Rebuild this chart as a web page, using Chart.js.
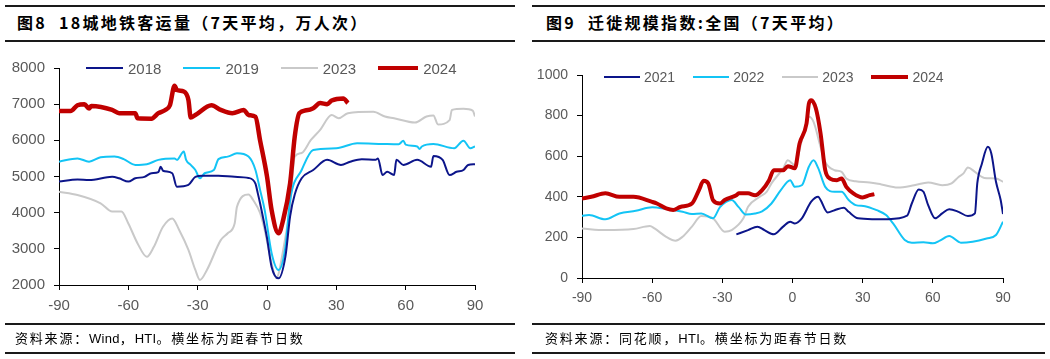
<!DOCTYPE html>
<html>
<head>
<meta charset="utf-8">
<script src="https://cdn.jsdelivr.net/npm/chart.js@4.4.1/dist/chart.umd.min.js"></script>
<style>
  body { margin: 0; width: 1050px; height: 359px; background: #fff; position: relative; overflow: hidden; }
  .rule { position: absolute; height: 2px; background: #1a1a1a; }
  .title { position: absolute; font: bold 16px "Noto Sans CJK SC", sans-serif; color: #000; white-space: nowrap; letter-spacing: 2.3px; }
  .note { position: absolute; font: 13px "Noto Sans CJK SC", sans-serif; color: #000; white-space: nowrap; letter-spacing: 1.8px; }
  .note .lat { letter-spacing: 0.3px; font-family: "Liberation Sans", Arial, sans-serif; }
  .panel { position: absolute; }
  .legend { position: absolute; display: flex; align-items: center; height: 18px; color: #595959; font-family: "Liberation Sans", Arial, sans-serif; }
  .legend .item { display: flex; align-items: center; }
  .legend .swatch { display: inline-block; }
</style>
</head>
<body>

<!-- left panel: metro -->
<div class="rule" style="left:5px;top:5px;width:510px"></div>
<div class="title" style="left:17px;top:10px">图8&nbsp;&nbsp;18城地铁客运量（7天平均，万人次）</div>
<div class="rule" style="left:5px;top:40px;width:510px"></div>
<canvas id="metroChart" class="panel" width="520" height="280" style="left:0;top:45px"></canvas>
<div id="metroLegend" class="legend" style="left:86px;top:59px;font-size:15px;gap:22px"></div>
<div class="rule" style="left:5px;top:323px;width:510px"></div>
<div class="note" style="left:15px;top:328px">资料来源：<span class="lat">Wind</span>，<span class="lat">HTI</span>。横坐标为距春节日数</div>
<div class="rule" style="left:5px;top:352px;width:510px"></div>

<!-- right panel: migration -->
<div class="rule" style="left:532px;top:5px;width:513px"></div>
<div class="title" style="left:546px;top:10px">图9&nbsp;&nbsp;迁徙规模指数:全国（7天平均）</div>
<div class="rule" style="left:532px;top:40px;width:513px"></div>
<canvas id="migChart" class="panel" width="525" height="280" style="left:525px;top:45px"></canvas>
<div id="migLegend" class="legend" style="left:604px;top:68px;font-size:14px;gap:18px"></div>
<div class="rule" style="left:532px;top:323px;width:513px"></div>
<div class="note" style="left:545px;top:328px">资料来源：同花顺，<span class="lat">HTI</span>。横坐标为距春节日数</div>
<div class="rule" style="left:532px;top:352px;width:513px"></div>

<script>
// x axis = days from Spring Festival
const xTicks = [-90, -60, -30, 0, 30, 60, 90];
const metroTicks = [2000, 3000, 4000, 5000, 6000, 7000, 8000];
const migTicks = [0, 200, 400, 600, 800, 1000];

// 18-city metro ridership, 7-day avg (10k trips)
const metroDays2018 = [-90,-82,-77,-67,-64,-60,-57,-53,-50,-47,-46,-45,-41,-39,-34,-31,-28,-21,-14,-8,-5,-4,-3,0,2,5,8,10,12,15,20,26,32,36,41,47,48,50,52,55,56,59,65,71,72,76,79,82,85,87,90];
const metro2018 = [4860,4920,4900,4990,4950,4860,4950,4990,5090,5120,5270,5160,5090,4720,4770,4990,5020,5020,4990,4960,4800,4540,4260,3300,2500,2185,2800,3900,4500,4950,5180,5460,5320,5410,5480,5460,5500,5040,5130,5040,5460,5320,5460,5270,5570,5460,5040,5130,5180,5320,5340];

const metroDays2019 = [-90,-82,-77,-72,-66,-62,-57,-52,-47,-40,-39,-36,-35,-33,-31,-29,-27,-23,-21,-17,-13,-8,-5,-3,-1,2,5,8,10,15,20,30,39,50,57,59,60,65,66,67,72,81,85,88,90];
const metro2019 = [5410,5500,5410,5530,5550,5480,5320,5340,5460,5500,5460,5690,5460,5320,5180,4950,5090,5180,5480,5550,5640,5550,5180,4630,4070,2880,2415,3060,4350,5180,5730,5780,5920,5900,5890,5990,5880,5830,5760,5830,5900,5780,5990,5780,5830];

const metroDays2023 = [-90,-82,-72,-67,-63,-60,-56,-52,-49,-45,-41,-38,-34,-31,-29,-26,-20,-17,-14,-13,-8,-6,-3,-1,2,4,7,10,12,15,19,23,28,31,35,46,51,55,64,69,72,74,79,80,85,89,90];
const metro2023 = [4580,4490,4260,4030,4030,3700,3150,2780,3050,3610,3840,3520,2970,2415,2140,2415,3240,3430,3700,4160,4500,4350,3990,3520,2600,2185,2960,4200,5550,5650,6010,6290,6700,6610,6750,6790,6660,6610,6490,6660,6690,6440,6560,6840,6870,6820,6660];

const metroDays2024 = [-90,-85,-82,-79,-77,-76,-67,-64,-57,-56,-50,-47,-44,-42,-40,-39,-36,-34,-33,-31,-24,-20,-15,-10,-8,-5,-3,0,2,5,7,10,12,14,17,20,23,26,28,33,35];
const metro2024 = [6810,6810,6970,7000,6880,6950,6840,6750,6750,6610,6600,6750,6840,6970,7510,7390,7350,7115,6630,6700,6970,6840,6750,6840,6700,6650,6000,5000,4070,3430,3800,4810,6100,6750,6830,6890,7030,7000,7100,7160,7030];

// national migration scale index, 7-day avg
const migDays2021 = [-24,-19,-15,-12,-8,-4,-1,1,4,8,11,12,15,18,22,24,28,34,41,49,51,54,56,58,61,64,67,71,75,78,79,81,83.5,85,87,89,90];
const mig2021 = [215,236,253,236,215,253,277,269,294,376,400,384,323,334,346,326,294,290,290,307,367,436,425,359,294,318,339,326,305,318,466,564,646,613,474,384,315];

const migDays2022 = [-90,-87,-80,-74,-67,-60,-54,-47,-43,-39,-34,-31,-26,-23,-20,-16,-13,-9,-5,-1,1,4,7,9,11,14,18,21,24,27,31,36,40,43,48,51,56,60,63,67,72,77,83,87,90];
const mig2022 = [307,310,289,318,331,348,340,326,315,318,294,349,384,349,313,318,328,367,433,482,449,457,548,580,541,449,425,425,384,359,354,334,310,269,187,174,176,171,184,207,174,179,195,212,277];

const migDays2023 = [-90,-80,-68,-61,-59,-54,-50,-47,-43,-39,-34,-29,-26,-21,-19,-14,-11,-9,-4,-2,1,4,7,9,12,14,18,21,23,27,33,38,45,52,58,64,68,71,73,75,78,82,87,90];
const mig2023 = [244,236,241,256,244,203,184,203,253,305,294,228,236,294,351,400,425,466,540,580,556,679,794,769,646,572,531,523,490,477,471,461,446,457,471,457,466,498,514,544,523,493,490,474];

const migDays2024 = [-90,-86,-80,-74,-68,-60,-58,-54,-51,-48,-43,-40,-38,-36,-34,-31,-29,-24,-23,-19,-16,-13,-10,-8,-4,-2,1,3,6,7,8,10,12,14,16,19,21,23,26,30,33,35];
const mig2024 = [392,400,417,400,400,375,367,343,335,350,367,433,479,466,384,367,384,408,417,417,408,433,482,531,531,551,541,662,761,859,876,835,712,531,490,482,490,449,417,397,408,413];

const NAVY = '#0c158a';
const CYAN = '#13c4f5';
const GREY = '#c9c9c9';
const RED = '#c00000';

function pts(days, vals) {
  return days.map((d, i) => ({ x: d, y: vals[i] }));
}

function series(label, days, vals, color, width, order, legendLen) {
  return {
    label: label,
    data: pts(days, vals),
    borderColor: color,
    backgroundColor: color,
    borderWidth: width,
    pointRadius: 0,
    cubicInterpolationMode: 'monotone',
    order: order,
    legendLen: legendLen
  };
}

function makeChart(canvasId, legendId, datasets, cfg) {
  const tickFont = { family: '"Liberation Sans", Arial, sans-serif', size: cfg.fontSize };
  const chart = new Chart(document.getElementById(canvasId).getContext('2d'), {
    type: 'line',
    data: { datasets: datasets },
    options: {
      responsive: false,
      animation: false,
      layout: { padding: { top: cfg.padTop, right: cfg.padRight, left: 0, bottom: 0 } },
      plugins: { legend: { display: false }, tooltip: { enabled: false } },
      scales: {
        x: {
          type: 'linear',
          min: -90,
          max: 90,
          afterBuildTicks: s => { s.ticks = xTicks.map(v => ({ value: v })); },
          afterFit: s => { s.height = cfg.xHeight; },
          border: { display: true, color: '#000', width: 1 },
          grid: { drawOnChartArea: false, drawTicks: true, tickLength: 5, color: '#000' },
          ticks: { color: '#595959', font: tickFont, padding: 7, maxRotation: 0, autoSkip: false, callback: v => String(v) }
        },
        y: {
          min: cfg.yTicks[0],
          max: cfg.yTicks[cfg.yTicks.length - 1],
          afterBuildTicks: s => { s.ticks = cfg.yTicks.map(v => ({ value: v })); },
          afterFit: s => { s.width = cfg.yWidth; },
          border: { display: true, color: '#000', width: 1 },
          grid: { drawOnChartArea: false, drawTicks: true, tickLength: 5, color: '#000' },
          ticks: { color: '#595959', font: tickFont, padding: 9, autoSkip: false, callback: v => String(v) }
        }
      }
    }
  });

  // legend in html, built from the datasets
  const box = document.getElementById(legendId);
  chart.data.datasets.forEach(ds => {
    const item = document.createElement('div');
    item.className = 'item';
    const sw = document.createElement('span');
    sw.className = 'swatch';
    sw.style.width = ds.legendLen + 'px';
    sw.style.height = ds.borderWidth + 'px';
    sw.style.background = ds.borderColor;
    sw.style.marginRight = cfg.legendGap + 'px';
    const txt = document.createElement('span');
    txt.textContent = ds.label;
    item.appendChild(sw);
    item.appendChild(txt);
    box.appendChild(item);
  });
  return chart;
}

makeChart('metroChart', 'metroLegend', [
  series('2018', metroDays2018, metro2018, NAVY, 2, 1, 37),
  series('2019', metroDays2019, metro2019, CYAN, 2, 2, 37),
  series('2023', metroDays2023, metro2023, GREY, 2, 3, 37),
  series('2024', metroDays2024, metro2024, RED, 4.5, 0, 40)
], { fontSize: 15, padTop: 23, padRight: 45, xHeight: 40, yWidth: 59, yTicks: metroTicks, legendGap: 5 });

makeChart('migChart', 'migLegend', [
  series('2021', migDays2021, mig2021, NAVY, 2, 1, 36),
  series('2022', migDays2022, mig2022, CYAN, 2, 2, 36),
  series('2023', migDays2023, mig2023, GREY, 2, 3, 36),
  series('2024', migDays2024, mig2024, RED, 4, 0, 37)
], { fontSize: 14, padTop: 30, padRight: 47, xHeight: 47, yWidth: 57, yTicks: migTicks, legendGap: 4 });
</script>
</body>
</html>
